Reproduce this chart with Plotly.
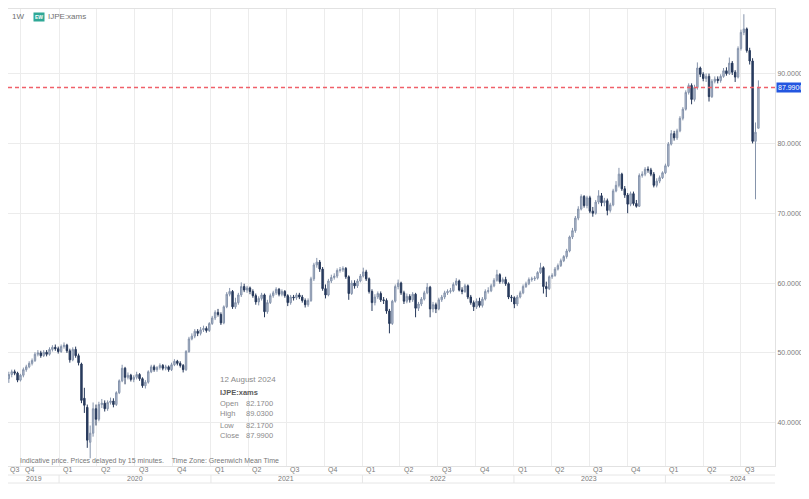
import pandas as pd
import plotly.graph_objects as go

# ---------------- data (weekly candles, IJPE:xams) ----------------
first_week = "2019-09-02"
n_weeks = 259

opens = [
    46.3, 46.9, 47.3, 47.1, 46.1, 46.8, 47.6, 48.0, 48.5, 48.9,
    49.8, 50.0, 49.6, 50.1, 49.8, 50.5, 50.8, 50.6, 50.2, 50.9,
    51.1, 50.3, 49.0, 50.5, 49.6, 48.4, 43.5, 42.2, 37.2, 38.5,
    42.0, 40.5, 42.6, 42.8, 42.0, 42.9, 43.1, 42.6, 44.3, 46.0,
    47.8, 46.5, 46.8, 46.2, 46.5, 46.9, 46.3, 45.3, 45.8, 47.3,
    48.0, 47.6, 47.9, 48.2, 47.8, 48.0, 47.6, 48.3, 48.8, 48.5,
    48.2, 47.6, 50.2, 52.0, 52.4, 53.1, 52.8, 53.3, 53.5, 53.2,
    54.2, 55.0, 55.8, 55.5, 54.3, 56.6, 58.4, 58.8, 56.6, 57.2,
    58.3, 59.5, 59.0, 59.3, 58.8, 58.2, 57.3, 57.8, 58.3, 55.9,
    57.2, 58.2, 58.6, 59.1, 58.4, 58.8, 58.2, 57.2, 58.0, 57.9,
    58.3, 58.0, 57.5, 56.9, 57.5, 60.6, 62.6, 63.0, 62.0, 59.2,
    58.3, 60.3, 60.8, 61.0, 61.8, 61.9, 62.1, 60.9, 58.5, 60.0,
    59.6, 60.3, 61.0, 61.6, 60.6, 58.8, 57.2, 58.0, 58.5, 57.6,
    57.5, 56.0, 54.2, 57.4, 59.5, 60.0, 58.6, 57.4, 58.1, 57.6,
    58.4, 56.4, 57.0, 57.7, 58.6, 59.4, 56.3, 56.9, 56.3, 57.6,
    58.0, 58.6, 58.8, 58.9, 59.8, 60.3, 59.0, 58.8, 59.6, 58.0,
    57.2, 56.6, 57.4, 56.8, 57.7, 58.8, 58.9, 59.6, 60.4, 61.2,
    60.2, 60.5, 59.9, 58.0, 57.9, 57.0, 58.0, 58.6, 59.5, 59.9,
    60.5, 60.6, 60.7, 61.5, 62.2, 59.5, 59.2, 60.9, 61.1, 62.0,
    62.5, 63.2, 63.8, 64.6, 66.6, 67.5, 69.3, 70.6, 72.4, 71.1,
    72.2, 70.3, 70.0, 71.6, 72.5, 71.5, 71.8, 70.4, 71.2, 73.2,
    74.0, 75.6, 73.5, 72.6, 71.3, 72.8, 71.4, 71.0, 75.4, 75.6,
    76.3, 76.2, 75.6, 74.0, 74.6, 75.1, 75.8, 76.8, 79.9, 81.4,
    80.8, 81.8, 83.6, 84.9, 87.3, 88.3, 86.3, 88.0, 90.8, 89.9,
    89.3, 89.6, 86.7, 88.9, 89.2, 89.0, 89.6, 90.4, 90.0, 91.5,
    90.2, 89.5, 93.6, 95.9, 96.4, 93.3, 91.8, 80.3, 82.17,
]
highs = [
    47.3, 47.6, 47.6, 47.3, 47.0, 47.9, 48.3, 48.8, 49.2, 50.1,
    50.4, 50.3, 50.4, 50.4, 50.8, 51.1, 51.2, 50.9, 51.2, 51.5,
    51.3, 50.6, 50.8, 50.9, 49.9, 48.6, 45.0, 42.6, 39.6, 42.9,
    42.6, 43.0, 43.4, 43.2, 43.2, 43.6, 43.5, 44.5, 46.2, 48.3,
    48.0, 47.2, 47.0, 46.8, 47.3, 47.1, 46.5, 46.1, 47.5, 48.3,
    48.3, 48.1, 48.5, 48.4, 48.3, 48.2, 48.6, 49.1, 49.0, 48.8,
    48.4, 50.4, 52.3, 52.8, 53.4, 53.4, 53.7, 53.9, 53.8, 54.4,
    55.3, 56.1, 56.3, 55.8, 56.8, 58.7, 59.3, 59.0, 57.9, 58.6,
    60.1, 59.9, 59.6, 59.5, 59.1, 58.5, 58.1, 58.6, 58.5, 57.6,
    58.5, 58.9, 59.4, 59.3, 59.1, 59.0, 58.4, 58.3, 58.3, 58.6,
    58.6, 58.3, 57.8, 57.8, 60.9, 62.9, 63.6, 63.3, 62.3, 59.8,
    60.6, 61.2, 61.4, 62.1, 62.3, 62.4, 62.3, 61.1, 60.4, 60.4,
    60.6, 61.3, 62.2, 61.9, 60.8, 59.1, 58.4, 58.8, 58.8, 58.0,
    57.8, 56.3, 57.6, 59.8, 60.5, 60.2, 58.9, 58.5, 58.4, 58.7,
    58.6, 57.3, 58.0, 58.9, 60.0, 59.6, 57.3, 57.2, 57.9, 58.3,
    58.9, 59.1, 59.3, 60.1, 60.7, 60.5, 59.4, 59.9, 59.8, 58.3,
    57.5, 57.8, 57.9, 58.0, 59.1, 59.4, 59.9, 60.7, 61.9, 61.4,
    60.8, 60.9, 60.1, 58.3, 58.1, 58.3, 58.9, 59.8, 60.2, 60.8,
    60.9, 61.0, 61.7, 62.9, 62.4, 60.2, 61.1, 61.4, 62.3, 62.8,
    63.5, 64.0, 64.9, 66.8, 67.9, 69.6, 71.0, 72.7, 72.6, 72.5,
    72.5, 70.9, 71.9, 73.3, 72.9, 72.2, 72.1, 71.5, 73.5, 74.6,
    76.5, 75.8, 73.9, 72.9, 73.1, 73.1, 71.9, 75.7, 76.0, 76.6,
    76.7, 76.5, 75.9, 75.0, 75.4, 76.0, 77.1, 80.2, 81.9, 81.8,
    82.1, 83.9, 85.2, 87.6, 88.6, 88.6, 88.4, 91.6, 91.0, 90.2,
    90.0, 90.0, 89.2, 89.6, 89.6, 89.9, 90.8, 90.9, 92.3, 91.8,
    90.5, 93.9, 96.3, 98.5, 96.6, 93.7, 92.2, 83.0, 89.03,
]
lows = [
    45.7, 46.5, 46.8, 45.8, 45.9, 46.5, 47.3, 47.8, 48.2, 48.7,
    49.5, 49.3, 49.4, 49.5, 49.6, 50.2, 50.3, 49.9, 50.0, 50.6,
    50.0, 48.6, 48.8, 49.3, 48.2, 42.8, 41.4, 36.4, 34.9, 38.0,
    39.6, 40.2, 42.1, 41.6, 41.7, 42.6, 42.2, 42.4, 44.1, 45.8,
    45.5, 46.2, 45.9, 45.8, 46.2, 46.0, 45.0, 44.9, 45.6, 47.1,
    47.3, 47.3, 47.6, 47.5, 47.5, 47.3, 47.4, 48.1, 48.2, 47.9,
    47.2, 47.4, 50.0, 51.8, 52.1, 52.4, 52.5, 53.0, 52.9, 53.0,
    54.0, 54.7, 55.2, 54.0, 54.1, 56.4, 58.1, 56.3, 56.3, 56.9,
    58.0, 58.7, 58.6, 58.4, 57.9, 56.9, 56.8, 57.5, 55.1, 55.6,
    57.0, 57.9, 58.3, 58.1, 58.1, 57.9, 56.7, 56.9, 57.5, 57.6,
    57.7, 57.2, 56.5, 56.6, 57.3, 60.3, 62.2, 61.6, 58.9, 57.8,
    58.1, 60.0, 60.5, 60.7, 61.5, 61.6, 60.6, 57.6, 58.3, 59.2,
    59.3, 60.1, 60.8, 60.3, 58.5, 56.0, 56.8, 57.7, 57.3, 57.0,
    55.6, 52.8, 54.0, 57.2, 59.1, 58.3, 57.0, 57.1, 57.2, 57.3,
    55.1, 56.0, 56.7, 57.5, 58.4, 55.1, 55.8, 55.7, 56.1, 57.3,
    57.7, 58.3, 58.5, 58.7, 59.6, 58.8, 58.4, 58.6, 57.7, 56.9,
    56.0, 56.3, 56.5, 56.5, 57.5, 58.5, 58.7, 59.4, 60.2, 59.9,
    59.9, 59.6, 57.7, 57.3, 56.4, 56.7, 57.8, 58.4, 59.3, 59.7,
    60.2, 60.3, 60.5, 61.3, 58.5, 58.0, 59.0, 60.6, 60.9, 61.8,
    62.3, 63.0, 63.5, 64.4, 66.3, 67.2, 69.0, 70.4, 70.8, 70.7,
    70.0, 69.5, 69.8, 71.3, 71.0, 71.0, 69.7, 70.1, 71.0, 73.0,
    73.7, 73.2, 72.2, 70.0, 71.0, 71.1, 70.8, 70.9, 75.1, 75.3,
    75.8, 75.3, 73.7, 73.7, 74.3, 74.9, 75.6, 76.6, 79.7, 80.4,
    80.5, 81.6, 83.3, 84.7, 87.0, 85.6, 86.0, 87.7, 89.5, 88.9,
    88.8, 86.0, 86.5, 88.6, 88.6, 88.7, 89.4, 89.7, 89.8, 89.8,
    88.8, 89.3, 93.3, 95.5, 93.0, 91.3, 80.0, 72.0, 82.17,
]
closes = [
    46.9, 47.3, 47.1, 46.1, 46.8, 47.6, 48.0, 48.5, 48.9, 49.8,
    50.0, 49.6, 50.1, 49.8, 50.5, 50.8, 50.6, 50.2, 50.9, 51.1,
    50.3, 49.0, 50.5, 49.6, 48.6, 43.2, 42.5, 37.5, 38.5, 42.0,
    40.5, 42.6, 42.8, 42.0, 42.9, 43.1, 42.6, 44.3, 46.0, 47.8,
    46.5, 46.8, 46.2, 46.5, 46.9, 46.3, 45.3, 45.8, 47.3, 48.0,
    47.6, 47.9, 48.2, 47.8, 48.0, 47.6, 48.3, 48.8, 48.5, 48.2,
    47.6, 50.2, 52.0, 52.4, 53.1, 52.8, 53.3, 53.5, 53.2, 54.2,
    55.0, 55.8, 55.5, 54.3, 56.6, 58.4, 58.8, 56.6, 57.2, 58.3,
    59.5, 59.0, 59.3, 58.8, 58.2, 57.3, 57.8, 58.3, 55.9, 57.2,
    58.2, 58.6, 59.1, 58.4, 58.8, 58.2, 57.2, 58.0, 57.9, 58.3,
    58.0, 57.5, 56.9, 57.5, 60.6, 62.6, 63.0, 62.0, 59.2, 58.3,
    60.3, 60.8, 61.0, 61.8, 61.9, 62.1, 60.9, 58.5, 60.0, 59.6,
    60.3, 61.0, 61.6, 60.6, 58.8, 57.2, 58.0, 58.5, 57.6, 57.5,
    56.0, 54.2, 57.4, 59.5, 60.0, 58.6, 57.4, 58.1, 57.6, 58.4,
    56.4, 57.0, 57.7, 58.6, 59.4, 56.3, 56.9, 56.3, 57.6, 58.0,
    58.6, 58.8, 58.9, 59.8, 60.3, 59.0, 58.8, 59.6, 58.0, 57.2,
    56.6, 57.4, 56.8, 57.7, 58.8, 58.9, 59.6, 60.4, 61.2, 60.2,
    60.5, 59.9, 58.0, 57.9, 57.0, 58.0, 58.6, 59.5, 59.9, 60.5,
    60.6, 60.7, 61.5, 62.2, 59.5, 59.2, 60.9, 61.1, 62.0, 62.5,
    63.2, 63.8, 64.6, 66.6, 67.5, 69.3, 70.6, 72.4, 71.1, 72.2,
    70.3, 70.0, 71.6, 72.5, 71.5, 71.8, 70.4, 71.2, 73.2, 74.0,
    75.6, 73.5, 72.6, 71.3, 72.8, 71.4, 71.0, 75.4, 75.6, 76.3,
    76.2, 75.6, 74.0, 74.6, 75.1, 75.8, 76.8, 79.9, 81.4, 80.8,
    81.8, 83.6, 84.9, 87.3, 88.3, 86.3, 88.0, 90.8, 89.9, 89.3,
    89.6, 86.7, 88.9, 89.2, 89.0, 89.6, 90.4, 90.0, 91.5, 90.2,
    89.5, 93.6, 95.9, 96.4, 93.3, 91.8, 80.3, 81.6, 87.99,
]

last_close = 87.99
y_ticks = [40, 50, 60, 70, 80, 90]

quarter_starts = ["2019-10-01",
                  "2020-01-01", "2020-04-01", "2020-07-01", "2020-10-01",
                  "2021-01-01", "2021-04-01", "2021-07-01", "2021-10-01",
                  "2022-01-01", "2022-04-01", "2022-07-01", "2022-10-01",
                  "2023-01-01", "2023-04-01", "2023-07-01", "2023-10-01",
                  "2024-01-01", "2024-04-01", "2024-07-01"]
quarter_labels = ["Q4",
                  "Q1", "Q2", "Q3", "Q4",
                  "Q1", "Q2", "Q3", "Q4",
                  "Q1", "Q2", "Q3", "Q4",
                  "Q1", "Q2", "Q3", "Q4",
                  "Q1", "Q2", "Q3"]
year_labels = ["2019", "2020", "2021", "2022", "2023", "2024"]
year_label_pos = ["2019-11-02", "2020-07-02", "2021-07-02",
                  "2022-07-02", "2023-07-02", "2024-06-24"]
year_starts = ["2020-01-01", "2021-01-01", "2022-01-01", "2023-01-01", "2024-01-01"]

x_range = ["2019-08-31", "2024-09-21"]

dates = pd.date_range(first_week, periods=n_weeks, freq="7D")

# ---------------- figure ----------------
FONT = "Liberation Sans, Arial, sans-serif"
GRID = "#ececec"
TXT = "#7a7a7a"

fig = go.Figure()
fig.add_trace(go.Candlestick(
    x=dates, open=opens, high=highs, low=lows, close=closes,
    increasing=dict(line=dict(color="#8593ab", width=1), fillcolor="#b6c1d2"),
    decreasing=dict(line=dict(color="#26385a", width=1), fillcolor="#2b3e62"),
    whiskerwidth=0, hoverinfo="skip", showlegend=False,
))

shapes = []
# last price dashed line
shapes.append(dict(type="line", xref="paper", x0=0, x1=1, yref="y",
                   y0=last_close, y1=last_close, layer="above",
                   line=dict(color="#f0606a", width=1.5, dash="4px,3px")))
# axis label rows separators
for yy in [-0.0197, -0.0372]:
    shapes.append(dict(type="line", xref="paper", x0=0, x1=1, yref="paper",
                       y0=yy, y1=yy, line=dict(color="#e6e6e6", width=1)))
for ys in year_starts:
    shapes.append(dict(type="line", xref="x", x0=ys, x1=ys, yref="paper",
                       y0=-0.0197, y1=-0.0372, line=dict(color="#e6e6e6", width=1)))

ann = []
# quarter labels
ann.append(dict(x=x_range[0], y=-0.0088, xref="x", yref="paper", text="Q3",
                showarrow=False, xanchor="left", yanchor="middle", xshift=0,
                font=dict(size=7, color=TXT, family=FONT)))
for qs, ql in zip(quarter_starts, quarter_labels):
    ann.append(dict(x=qs, y=-0.0088, xref="x", yref="paper", text=ql,
                    showarrow=False, xanchor="left", yanchor="middle", xshift=2,
                    font=dict(size=7, color=TXT, family=FONT)))
for yp, yl in zip(year_label_pos, year_labels):
    ann.append(dict(x=yp, y=-0.0284, xref="x", yref="paper", text=yl,
                    showarrow=False, xanchor="center", yanchor="middle",
                    font=dict(size=7, color=TXT, family=FONT)))

# last price label on axis
ann.append(dict(x=1, y=last_close, xref="paper", yref="y", text="%.4f" % last_close,
                showarrow=False, xanchor="left", yanchor="middle", xshift=1,
                bgcolor="#2356e0", borderpad=1,
                font=dict(size=7, color="white", family=FONT)))

# header
ann.append(dict(x=0.003, y=0.9825, xref="paper", yref="paper", text="1W",
                showarrow=False, xanchor="left", yanchor="middle",
                font=dict(size=8, color="#6f6f6f", family=FONT)))
ann.append(dict(x=0.033, y=0.9825, xref="paper", yref="paper", text="<b>EW</b>",
                showarrow=False, xanchor="left", yanchor="middle",
                bgcolor="#2fa896", borderpad=1,
                font=dict(size=5, color="white", family=FONT)))
ann.append(dict(x=0.049, y=0.9825, xref="paper", yref="paper", text="IJPE:xams",
                showarrow=False, xanchor="left", yanchor="middle",
                font=dict(size=8, color="#6f6f6f", family=FONT)))

# disclaimer
ann.append(dict(x=0.013, y=0.011, xref="paper", yref="paper",
                text="Indicative price. Prices delayed by 15 minutes.&nbsp;&nbsp;&nbsp;&nbsp;Time Zone: Greenwich Mean Time",
                showarrow=False, xanchor="left", yanchor="middle",
                font=dict(size=7, color="#777777", family=FONT)))

# info box
ann.append(dict(x=0.2738, y=0.1882, xref="paper", yref="paper", text="12 August 2024",
                showarrow=False, xanchor="left", yanchor="middle",
                font=dict(size=8, color="#8a8a8a", family=FONT)))
ann.append(dict(x=0.2738, y=0.1619, xref="paper", yref="paper", text="<b>IJPE:xams</b>",
                showarrow=False, xanchor="left", yanchor="middle",
                font=dict(size=7.5, color="#5a5a5a", family=FONT)))
rows = [("Open", opens[-1]), ("High", highs[-1]), ("Low", lows[-1]), ("Close", closes[-1])]
row_y = [0.1357, 0.1138, 0.0897, 0.0678]
for (lab, val), yy in zip(rows, row_y):
    ann.append(dict(x=0.2738, y=yy, xref="paper", yref="paper", text=lab,
                    showarrow=False, xanchor="left", yanchor="middle",
                    font=dict(size=7.5, color="#8a8a8a", family=FONT)))
    ann.append(dict(x=0.3481, y=yy, xref="paper", yref="paper", text="%.4f" % val,
                    showarrow=False, xanchor="right", yanchor="middle",
                    font=dict(size=7.5, color="#8a8a8a", family=FONT)))

# page body has an 8px margin, so the figure is sized/margined to compensate
fig.update_layout(
    width=801, height=491,
    margin=dict(l=0, r=34, t=1, b=33),
    paper_bgcolor="white", plot_bgcolor="white",
    font=dict(family=FONT, size=7, color=TXT),
    shapes=shapes, annotations=ann,
    showlegend=False,
    xaxis=dict(
        type="date", range=x_range, rangeslider=dict(visible=False),
        tickvals=quarter_starts, showticklabels=False, ticks="",
        showgrid=True, gridcolor=GRID, gridwidth=1,
        showline=True, mirror=True, linecolor="#e2e2e2", linewidth=1,
        zeroline=False,
    ),
    yaxis=dict(
        side="right", range=[33.8, 99.25],
        tickvals=y_ticks, ticktext=["%.4f" % v for v in y_ticks],
        tickfont=dict(size=7, color=TXT, family=FONT), ticks="",
        showgrid=True, gridcolor=GRID, gridwidth=1,
        showline=True, linecolor="#e2e2e2", linewidth=1, zeroline=False,
    ),
)

fig.write_html("out.html")
